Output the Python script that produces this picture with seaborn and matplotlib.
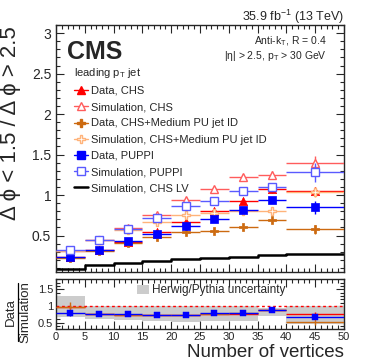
import numpy as np
import pandas as pd
import matplotlib
matplotlib.use("Agg")
import matplotlib.pyplot as plt
import seaborn as sns
from matplotlib.lines import Line2D
from matplotlib.patches import Patch
from matplotlib.ticker import MultipleLocator, FuncFormatter

# ---------------- data ----------------
bin_centers = [2.5, 7.5, 12.5, 17.5, 22.5, 27.5, 32.5, 37.5, 45.0]
bin_halfwidths = [2.5, 2.5, 2.5, 2.5, 2.5, 2.5, 2.5, 2.5, 5.0]
bin_edges = [0, 5, 10, 15, 20, 25, 30, 35, 40, 50]

data_chs = [0.24, 0.32, 0.42, 0.54, 0.67, 0.80, 0.93, 1.07, 1.05]
data_chs_err = [0.02, 0.02, 0.02, 0.02, 0.02, 0.03, 0.03, 0.04, 0.05]
sim_chs = [0.31, 0.45, 0.59, 0.75, 0.94, 1.07, 1.22, 1.25, 1.40]
sim_chs_err = [0.02, 0.02, 0.02, 0.03, 0.03, 0.03, 0.04, 0.05, 0.08]
data_med = [0.22, 0.31, 0.41, 0.48, 0.54, 0.56, 0.60, 0.69, 0.575]
data_med_err = [0.02, 0.02, 0.02, 0.02, 0.02, 0.02, 0.03, 0.03, 0.05]
sim_med = [0.31, 0.44, 0.57, 0.67, 0.76, 0.78, 0.80, 0.80, 1.04]
sim_med_err = [0.02, 0.02, 0.02, 0.03, 0.03, 0.03, 0.04, 0.04, 0.06]
data_puppi = [0.23, 0.325, 0.43, 0.525, 0.62, 0.71, 0.82, 0.94, 0.85]
data_puppi_err = [0.02, 0.02, 0.02, 0.02, 0.02, 0.03, 0.03, 0.04, 0.08]
sim_puppi = [0.32, 0.45, 0.58, 0.72, 0.86, 0.93, 1.05, 1.10, 1.28]
sim_puppi_err = [0.02, 0.02, 0.02, 0.03, 0.03, 0.03, 0.04, 0.05, 0.12]
sim_chs_lv = [0.09, 0.14, 0.165, 0.185, 0.21, 0.225, 0.24, 0.26, 0.275]

ratio_chs = [0.97, 0.76, 0.74, 0.74, 0.73, 0.76, 0.77, 0.87, 0.77]
ratio_chs_err = [0.06, 0.03, 0.02, 0.02, 0.02, 0.02, 0.02, 0.03, 0.06]
ratio_med = [0.96, 0.76, 0.74, 0.73, 0.73, 0.76, 0.78, 0.87, 0.53]
ratio_med_err = [0.17, 0.04, 0.02, 0.02, 0.02, 0.02, 0.02, 0.03, 0.10]
ratio_puppi = [0.78, 0.75, 0.75, 0.74, 0.74, 0.78, 0.79, 0.88, 0.68]
ratio_puppi_err = [0.08, 0.02, 0.02, 0.02, 0.02, 0.02, 0.02, 0.03, 0.08]
band_low = [0.68, 0.60, 0.58, 0.55, 0.53, 0.56, 0.56, 0.70, 0.45]
band_high = [1.30, 1.00, 1.00, 1.00, 1.00, 1.00, 1.00, 0.95, 1.00]

x_ticks_major = 5
# ---------------- style ----------------
sns.set_style("ticks")
plt.rcParams["font.family"] = ["Liberation Sans", "DejaVu Sans"]
plt.rcParams["mathtext.fontset"] = "custom"
plt.rcParams["mathtext.rm"] = "Liberation Sans"
plt.rcParams["mathtext.it"] = "Liberation Sans:italic"
plt.rcParams["mathtext.bf"] = "Liberation Sans:bold"

RED = "#ff0000"
RED_SIM = "#ff5c5c"
ORANGE = "#cc6a10"
ORANGE_SIM = "#ffb37a"
BLUE = "#0000ff"
BLUE_SIM = "#5a5aff"

fig = plt.figure(figsize=(3.74, 3.63), dpi=100)
ax = fig.add_axes([0.1497, 0.2507, 0.770, 0.6804])
rax = fig.add_axes([0.1497, 0.0928, 0.770, 0.1378])

x = np.array(bin_centers)
xe = np.array(bin_halfwidths)

series = [
    (data_chs, data_chs_err, RED, RED, "^", True, "Data, CHS"),
    (sim_chs, sim_chs_err, RED_SIM, RED_SIM, "^", False, "Simulation, CHS"),
    (data_med, data_med_err, ORANGE, ORANGE, "P", True, "Data, CHS+Medium PU jet ID"),
    (sim_med, sim_med_err, ORANGE_SIM, ORANGE_SIM, "P", False, "Simulation, CHS+Medium PU jet ID"),
    (data_puppi, data_puppi_err, BLUE, BLUE, "s", True, "Data, PUPPI"),
    (sim_puppi, sim_puppi_err, BLUE_SIM, BLUE_SIM, "s", False, "Simulation, PUPPI"),
]

# step line (CHS LV) via seaborn
lv_df = pd.DataFrame({"nvtx": bin_edges, "ratio": list(sim_chs_lv) + [sim_chs_lv[-1]]})
sns.lineplot(data=lv_df, x="nvtx", y="ratio", drawstyle="steps-post", color="black",
             lw=1.8, ax=ax, legend=False, zorder=2)

handles = []
for i, (vals, errs, lc, mc, mk, filled, lab) in enumerate(series):
    ms = 6.0 if mk != "P" else 5.5
    ax.errorbar(x, vals, xerr=xe, yerr=errs, fmt="none", ecolor=lc, elinewidth=1.0,
                capsize=0, zorder=3 + i)
    df = pd.DataFrame({"x": x, "y": vals})
    if filled:
        sns.scatterplot(data=df, x="x", y="y", marker=mk, s=ms**2, color=mc,
                        edgecolor=mc, linewidth=0.5, ax=ax, zorder=3.5 + i, legend=False)
    else:
        ax.plot(df["x"], df["y"], linestyle="none", marker=mk, ms=ms,
                mfc="white", mec=mc, mew=1.0, zorder=3.5 + i)
    handles.append(Line2D([0], [0], color=lc, lw=1.0, marker=mk, ms=ms,
                          mfc=(mc if filled else "white"), mec=mc, mew=1.0, label=lab))
handles.append(Line2D([0], [0], color="black", lw=1.8, label="Simulation, CHS LV"))

ax.set_xlim(0, 50)
ax.set_ylim(0.05, 3.1)
ax.set_xlabel("")
ax.set_ylabel("")
ax.xaxis.set_major_locator(MultipleLocator(x_ticks_major))
ax.xaxis.set_minor_locator(MultipleLocator(1))
ax.yaxis.set_major_locator(MultipleLocator(0.5))
ax.yaxis.set_minor_locator(MultipleLocator(0.1))
ax.yaxis.set_major_formatter(FuncFormatter(lambda v, p: f"{v:g}"))
ax.tick_params(axis="both", which="both", direction="in", top=True, right=True)
ax.tick_params(axis="both", which="major", length=6, width=0.8, labelsize=10)
ax.tick_params(axis="both", which="minor", length=3, width=0.8)
ax.tick_params(axis="x", labelbottom=False)
for s in ax.spines.values():
    s.set_linewidth(1.0)

leg = ax.legend(handles=handles, loc="upper left", bbox_to_anchor=(0.062, 0.835),
                frameon=False, fontsize=8, title="leading p$_{\\mathrm{T}}$ jet",
                title_fontsize=8, alignment="left", borderpad=0, borderaxespad=0,
                handlelength=1.25, handletextpad=0.3, labelspacing=0.56)

ax.text(0.038, 0.94, "CMS", transform=ax.transAxes, fontsize=18, fontweight="bold",
        ha="left", va="top")
ax.text(0.941, 0.933, "Anti-k$_{\\mathrm{T}}$, R = 0.4", transform=ax.transAxes,
        fontsize=7.5, ha="right", va="center")
ax.text(0.941, 0.876, "|η| > 2.5, p$_{\\mathrm{T}}$ > 30 GeV", transform=ax.transAxes,
        fontsize=7.5, ha="right", va="center")

fig.text(344 / 374, 1 - 21.5 / 363, "35.9 fb$^{-1}$ (13 TeV)", ha="right", va="baseline",
         fontsize=9)
fig.text(11 / 374, 1 - 26 / 363, "Δ ϕ < 1.5 / Δ ϕ > 2.5", rotation=90, ha="center",
         va="top", fontsize=16)
fig.text(344 / 374, 1 - 352.5 / 363, "Number of vertices", ha="right", va="center",
         fontsize=13.5)

# ---------------- ratio panel ----------------
for lo, hi, l, r in zip(band_low, band_high, bin_edges[:-1], bin_edges[1:]):
    rax.fill_between([l, r], [lo, lo], [hi, hi], color="#cccccc", lw=0, zorder=1)
rax.axhline(1.0, color=RED, ls=(0, (2, 2)), lw=1.0, zorder=2)
rax.errorbar(x, ratio_chs, xerr=xe, yerr=ratio_chs_err, fmt="none", ecolor=RED,
             elinewidth=1.0, zorder=3)
rax.errorbar(x, ratio_med, xerr=xe, yerr=ratio_med_err, fmt="none", ecolor=ORANGE,
             elinewidth=1.0, zorder=4)
rax.errorbar(x, ratio_puppi, xerr=xe, yerr=ratio_puppi_err, fmt="none", ecolor=BLUE,
             elinewidth=1.0, zorder=5)
rdf = pd.DataFrame({"x": x, "y": ratio_puppi})
sns.scatterplot(data=rdf, x="x", y="y", marker="s", s=16, color=BLUE, edgecolor=BLUE,
                ax=rax, zorder=6, legend=False)
rax.set_xlim(0, 50)
rax.set_ylim(0.3, 1.8)
rax.set_xlabel("")
rax.set_ylabel("")
rax.xaxis.set_major_locator(MultipleLocator(x_ticks_major))
rax.xaxis.set_minor_locator(MultipleLocator(1))
rax.yaxis.set_major_locator(MultipleLocator(0.5))
rax.yaxis.set_minor_locator(MultipleLocator(0.1))
rax.yaxis.set_major_formatter(FuncFormatter(lambda v, p: f"{v:g}"))
rax.tick_params(axis="both", which="both", direction="in", top=True, right=True)
rax.tick_params(axis="both", which="major", length=6, width=0.8, labelsize=8, pad=2)
rax.tick_params(axis="both", which="minor", length=3, width=0.8)
for s in rax.spines.values():
    s.set_linewidth(1.0)
rax.legend(handles=[Patch(facecolor="#cccccc", edgecolor="none",
                          label="Herwig/Pythia uncertainty")],
           loc="upper left", bbox_to_anchor=(0.281, 0.90), frameon=False, fontsize=8.5,
           borderpad=0, borderaxespad=0, handlelength=1.0, handleheight=0.8,
           handletextpad=0.25)

# fraction y-label
fig.text(10.5 / 374, 1 - 312 / 363, "Data", rotation=90, ha="center", va="center",
         fontsize=9.5)
fig.text(25 / 374, 1 - 312 / 363, "Simulation", rotation=90, ha="center", va="center",
         fontsize=9.5)
fig.add_artist(Line2D([17.5 / 374, 17.5 / 374], [1 - 283 / 363, 1 - 341 / 363],
                      color="black", lw=0.9, transform=fig.transFigure))

fig.savefig("out.png", dpi=100)
